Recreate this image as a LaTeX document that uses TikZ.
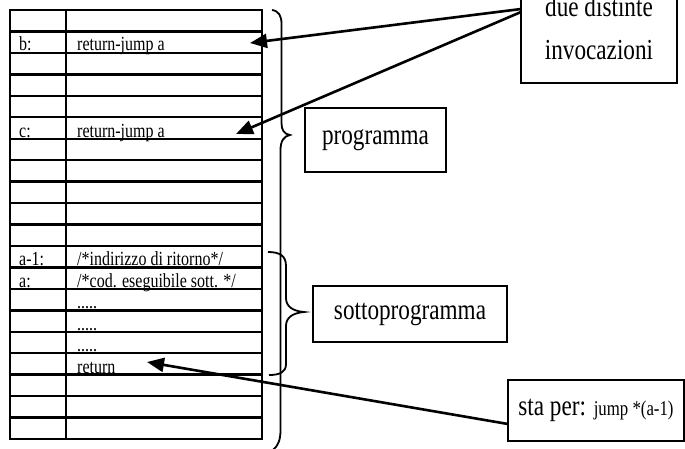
\documentclass[tikz,border=0pt]{standalone}
\usepackage{fontspec}
\setmainfont{Liberation Serif}[FakeStretch=0.8]
\usetikzlibrary{arrows.meta}
\newcommand{\cellsz}{\fontsize{20}{22}\selectfont}
\newcommand{\boxsz}{\fontsize{29}{43}\selectfont}
\newcommand{\notesz}{\fontsize{21}{23}\selectfont}
\begin{document}
\begin{tikzpicture}[x=1pt,y=-1pt,
  tabline/.style={line width=2.4pt},
  bracepath/.style={line width=1.8pt},
  cell/.style={anchor=base west, inner sep=0pt, font=\cellsz},
  labelbox/.style={draw, line width=1.8pt, font=\boxsz, align=center, inner sep=0pt},
  callout/.style={line width=2.6pt, -{Triangle[length=17pt,width=14pt]}},
]
\useasboundingbox (0,0) rectangle (685,448);
\fill[white] (0,0) rectangle (685,448);

% table
\foreach \i in {1,...,19} \draw[tabline] (10,{10+\i*21.45}) -- (262,{10+\i*21.45});
\draw[tabline] (10,10) rectangle (262,439);
\draw[tabline] (66,10) -- (66,439);

% cell texts (baseline = row bottom - 1.5)
\node[cell] (lb) at (19,{10+2*21.45-2}) {b:};
\node[cell] (cb) at (77,{10+2*21.45-2}) {return-jump a};
\node[cell] (lc) at (19,{10+6*21.45-1.5}) {c:};
\node[cell] (cc) at (77,{10+6*21.45-1.5}) {return-jump a};
\node[cell] (la1) at (19,{10+12*21.45-1.5}) {a-1:};
\node[cell] (ca1) at (77,{10+12*21.45-1.5}) {/*indirizzo di ritorno*/};
\node[cell] (la) at (19,{10+13*21.45-1.5}) {a:};
\node[cell] (ca) at (77,{10+13*21.45-1.5}) {/*cod. eseguibile sott. */};
\node[cell] (d1) at (77,{10+14*21.45-1.5}) {.....};
\node[cell] (d2) at (77,{10+15*21.45-1.5}) {.....};
\node[cell] (d3) at (77,{10+16*21.45-1.5}) {.....};
\node[cell] (ret) at (77,{10+17*21.45-1.5}) {return};

% big brace (programma)
\draw[bracepath] (272,10) .. controls (279,11) and (281.5,16) .. (281.5,24)
  -- (281.5,123) .. controls (281.5,130) and (284,134) .. (290,135)
  .. controls (284,136) and (280.5,141) .. (280.5,150)
  -- (280.5,430) .. controls (280.5,440) and (278,446) .. (273,450);

% small brace (sottoprogramma)
\draw[bracepath] (268,252) .. controls (280,252) and (286,256) .. (286,266)
  -- (286,298) .. controls (286,306) and (292,311) .. (304,312)
  .. controls (292,313) and (286,318) .. (286,326)
  -- (286,364) .. controls (286,372) and (280,375) .. (269,375);

% label boxes
\node[labelbox, minimum width=156pt, minimum height=109pt] (inv) at (599,28.5) {due distinte\\invocazioni};
\node[labelbox, minimum width=141pt, minimum height=64pt] (prog) at (375.5,140) {programma};
\node[labelbox, minimum width=194pt, minimum height=56pt] (sotto) at (410,314) {sottoprogramma};
\node[labelbox, minimum width=176pt, minimum height=61pt] (sta) at (596,410.5) {sta per: {\notesz jump *(a-1)}};

% connectors
\coordinate (invA) at (521,9);
\coordinate (invB) at (521,12);
\coordinate (tb) at (250,43);
\coordinate (tc) at (236,134);
\coordinate (staA) at (508,424);
\coordinate (tret) at (147,362);
\draw[callout] (invA) -- (tb);
\draw[callout] (invB) -- (tc);
\draw[callout] (staA) -- (tret);
\end{tikzpicture}
\end{document}
